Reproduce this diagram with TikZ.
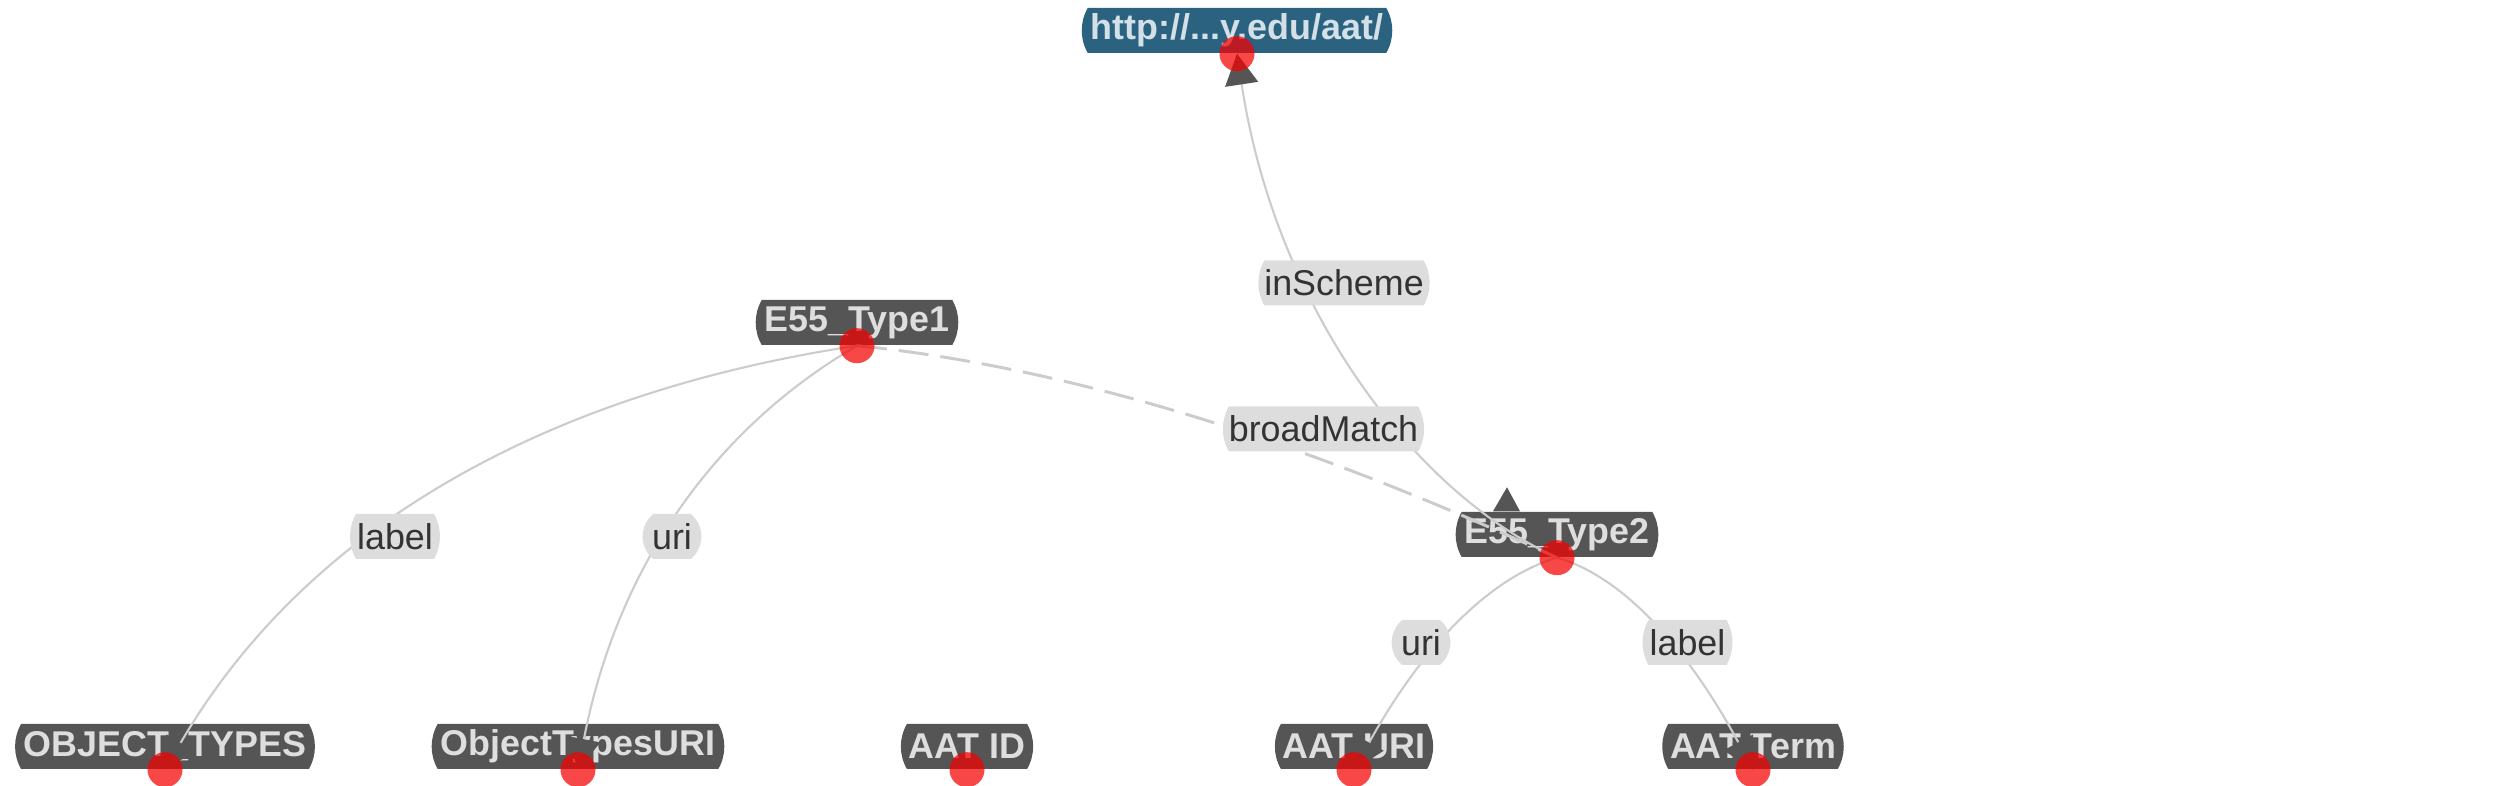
\documentclass[tikz,border=0pt]{standalone}
\usepackage{fontspec}
\setmainfont{Liberation Sans}
\usepackage{tikz}
\usetikzlibrary{arrows.meta,shapes.misc}
\definecolor{NodeGray}{RGB}{85,85,85}
\definecolor{NodeText}{RGB}{222,222,222}
\definecolor{SchemeBlue}{RGB}{42,98,128}
\definecolor{SchemeText}{RGB}{212,224,232}
\definecolor{LabelGray}{RGB}{221,221,221}
\definecolor{LabelText}{RGB}{51,51,51}
\definecolor{EdgeGray}{RGB}{204,204,204}
\definecolor{DotRed}{RGB}{245,0,0}

\begin{document}
\begin{tikzpicture}[
  every node/.style={align=center,font=\fontsize{10.2pt}{12pt}\selectfont},
  res/.style={rounded rectangle,rounded rectangle arc length=60,minimum height=0.45cm,
    inner ysep=0pt,inner xsep=0.06cm,fill=NodeGray,text=NodeText,font=\fontsize{10.2pt}{12pt}\selectfont\bfseries},
  rel/.style={rounded rectangle,rounded rectangle arc length=60,minimum height=0.45cm,
    inner ysep=0pt,inner xsep=0.04cm,fill=LabelGray,text=LabelText},
  short/.style={rounded rectangle arc length=100,inner xsep=0pt},
  edge/.style={draw=EdgeGray,line width=0.6pt},
  tip/.style={-{Triangle[length=0.31cm,width=0.33cm,color=NodeGray]}}]
\useasboundingbox (0,0) rectangle (25.02,-7.86);
% resources
\node[res,fill=SchemeBlue,text=SchemeText] (aat) at (12.37,-0.305) {http://...y.edu/aat/};
\node[res] (t1) at (8.57,-3.225) {E55\_Type1};
\node[res] (t2) at (15.57,-5.345) {E55\_Type2};
\node[res] (objtypes) at (1.65,-7.465) {OBJECT\_TYPES};
\node[res] (objuri) at (5.78,-7.465) {ObjectTypesURI};
\node[res] (aatid) at (9.67,-7.465) {AAT ID};
\node[res] (aaturi) at (13.54,-7.465) {AAT URI};
\node[res] (aatterm) at (17.53,-7.465) {AAT Term};
% properties
\foreach \s/\t/\p/\q in {t1/objtypes/{5.32,-3.95}/{3.01,-5.36},
                         t1/objuri/{7.09,-4.32}/{6.16,-5.73},
                         t2/aaturi/{14.88,-5.78}/{14.21,-6.49},
                         t2/aatterm/{16.22,-5.76}/{16.87,-6.47},
                         t2/aat/{14.10,-4.90}/{12.75,-3.04}}
  \draw[edge,tip] (\s.south) .. controls (\p) and (\q) .. (\t.south);
\draw[edge,line width=0.85pt,dash pattern=on 0.3cm off 0.12cm]
  (t1.south) .. controls (10.60,-3.66) and (12.94,-4.36) .. (t2.south);
\fill[NodeGray] ([xshift=-0.64cm]t2.north) -- ([xshift=-0.37cm]t2.north) -- ([xshift=-0.5cm,yshift=0.24cm]t2.north) -- cycle;
\node[rel] (l1) at (3.95,-5.365) {label};
\node[rel,short] (l2) at (6.72,-5.365) {uri};
\node[rel] (l3) at (13.44,-2.83) {inScheme};
\node[rel] (l4) at (13.235,-4.29) {broadMatch};
\node[rel,short] (l5) at (14.21,-6.425) {uri};
\node[rel] (l6) at (16.875,-6.425) {label};
\foreach \n in {aat,t1,t2,objtypes,objuri,aatid,aaturi,aatterm}
  \fill[DotRed,opacity=0.72] (\n.south) circle (0.175);
\end{tikzpicture}
\end{document}
